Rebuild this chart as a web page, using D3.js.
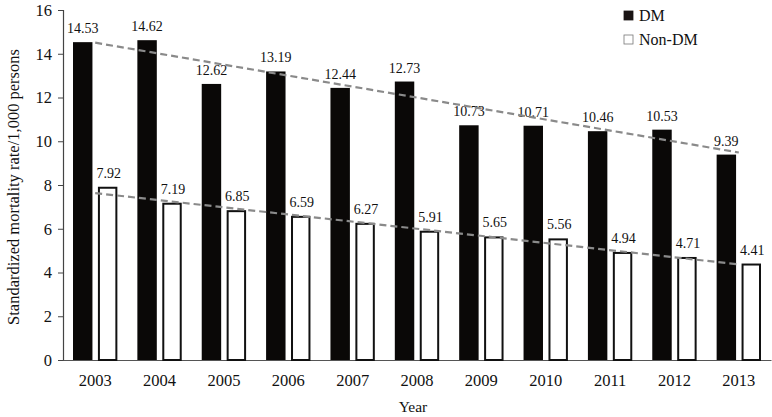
<!DOCTYPE html>
<html>
<head>
    <meta charset="UTF-8">
    <title>Chart</title>
    <style>
        body { margin: 0; background: #fff; }
        svg text { font-family: "Liberation Serif", "DejaVu Serif", serif; fill: #111; }
    </style>
</head>
<body>
    <div id="graph-container"></div>

    <script src="https://cdn.jsdelivr.net/npm/d3@7/dist/d3.min.js"></script>
    <script>
        // Data
        const years = ["2003", "2004", "2005", "2006", "2007", "2008", "2009", "2010", "2011", "2012", "2013"];
        const dmValues = [14.53, 14.62, 12.62, 13.19, 12.44, 12.73, 10.73, 10.71, 10.46, 10.53, 9.39];
        const nonDmValues = [7.92, 7.19, 6.85, 6.59, 6.27, 5.91, 5.65, 5.56, 4.94, 4.71, 4.41];
        const seriesNames = ["DM", "Non-DM"];
        const yTicks = [0, 2, 4, 6, 8, 10, 12, 14, 16];

        const W = 772, H = 417;
        const margin = { top: 10, right: 1, bottom: 57, left: 63 };
        const width = W - margin.left - margin.right;
        const height = H - margin.top - margin.bottom;

        const svg = d3.select("#graph-container")
            .append("svg")
            .attr("width", W)
            .attr("height", H);

        const g = svg.append("g")
            .attr("transform", `translate(${margin.left},${margin.top})`);

        // Scales
        const x = d3.scaleBand().domain(years).range([0, width]).paddingInner(0).paddingOuter(0);
        const xSub = d3.scaleBand().domain(seriesNames).range([10, x.bandwidth() - 10]).paddingInner(0.22);
        const y = d3.scaleLinear().domain([0, 16]).range([height, 0]);

        const rows = years.map((yr, i) => ({ year: yr, DM: dmValues[i], "Non-DM": nonDmValues[i] }));

        // Y axis
        const yAxis = g.append("g")
            .call(d3.axisLeft(y).tickValues(yTicks).tickSize(5).tickPadding(6));
        yAxis.select(".domain").attr("stroke", "#444").attr("stroke-width", 1.2);
        yAxis.selectAll(".tick line").attr("stroke", "#444");
        yAxis.selectAll("text").style("font-size", "16.5px").attr("fill", "#111");

        // X axis (no ticks)
        const xAxis = g.append("g")
            .attr("transform", `translate(0,${height})`)
            .call(d3.axisBottom(x).tickSize(0).tickPadding(14));
        xAxis.select(".domain").attr("stroke", "#555").attr("stroke-width", 1.2);
        xAxis.selectAll("text").style("font-size", "16.5px").attr("fill", "#111");

        // Axis titles
        svg.append("text")
            .attr("x", margin.left + width / 2 - 4)
            .attr("y", H - 5)
            .attr("text-anchor", "middle")
            .style("font-size", "15.5px")
            .text("Year");

        svg.append("text")
            .attr("transform", `translate(19,187) rotate(-90)`)
            .attr("text-anchor", "middle")
            .style("font-size", "16.5px")
            .text("Standardized mortality rate/1,000 persons");

        // Bars
        const groups = g.selectAll(".year-group")
            .data(rows)
            .join("g")
            .attr("class", "year-group")
            .attr("transform", d => `translate(${x(d.year)},0)`);

        groups.selectAll("rect")
            .data(d => seriesNames.map(k => ({ key: k, value: d[k] })))
            .join("rect")
            .attr("x", d => xSub(d.key) + (d.key === "Non-DM" ? 1 : 0))
            .attr("y", d => y(d.value) + (d.key === "Non-DM" ? 1 : 0))
            .attr("width", d => xSub.bandwidth() - (d.key === "Non-DM" ? 2 : 0))
            .attr("height", d => height - y(d.value) - (d.key === "Non-DM" ? 1 : 0))
            .attr("fill", d => d.key === "DM" ? "#0a0807" : "#fff")
            .attr("stroke", d => d.key === "DM" ? "none" : "#111")
            .attr("stroke-width", 2);

        groups.selectAll(".val")
            .data(d => seriesNames.map(k => ({ key: k, value: d[k] })))
            .join("text")
            .attr("class", "val")
            .attr("x", d => xSub(d.key) + xSub.bandwidth() / 2 + (d.key === "Non-DM" ? 1 : 0))
            .attr("y", d => y(d.value) - 9)
            .attr("text-anchor", "middle")
            .style("font-size", "14px")
            .text(d => d.value.toFixed(2));

        // Linear trend lines (least squares over year index)
        function fit(vals) {
            const n = vals.length;
            const mx = d3.mean(vals, (v, i) => i);
            const my = d3.mean(vals);
            const sxy = d3.sum(vals, (v, i) => (i - mx) * (v - my));
            const sxx = d3.sum(vals, (v, i) => (i - mx) * (i - mx));
            const b = sxy / sxx;
            return [0, n - 1].map(i => ({ i, v: my + b * (i - mx) }));
        }

        const trendLine = d3.line()
            .x(d => x(years[d.i]) + x.bandwidth() / 2)
            .y(d => y(d.v));

        [dmValues, nonDmValues].forEach(vals => {
            g.append("path")
                .datum(fit(vals))
                .attr("fill", "none")
                .attr("stroke", "#8a8a8a")
                .attr("stroke-width", 2.2)
                .attr("stroke-dasharray", "7,4")
                .attr("d", trendLine);
        });

        // Legend
        const legend = svg.append("g").attr("transform", "translate(624,11)");
        seriesNames.forEach((name, i) => {
            legend.append("rect")
                .attr("x", 0)
                .attr("y", i * 24)
                .attr("width", 9)
                .attr("height", 9)
                .attr("fill", name === "DM" ? "#1a1414" : "#fff")
                .attr("stroke", name === "DM" ? "#1a1414" : "#777")
                .attr("stroke-width", 0.8);
            legend.append("text")
                .attr("x", 15)
                .attr("y", i * 24 + 10)
                .style("font-size", "16px")
                .text(name);
        });
    </script>
</body>
</html>
